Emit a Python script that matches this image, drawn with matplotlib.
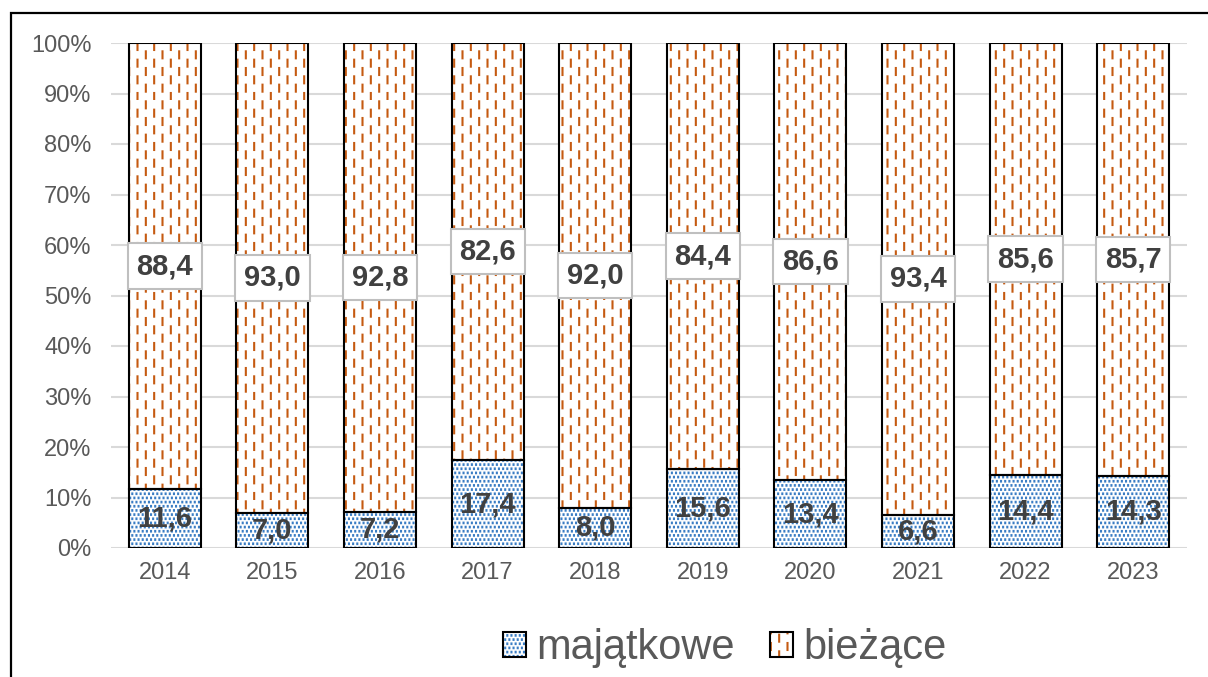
import warnings
import numpy as np
import matplotlib
matplotlib.use("Agg")
import matplotlib.pyplot as plt
from matplotlib import hatch as mhatch
from matplotlib.path import Path
from matplotlib.patches import Rectangle

warnings.filterwarnings("ignore")

# ---- data ----
years = ["2014", "2015", "2016", "2017", "2018", "2019", "2020", "2021", "2022", "2023"]
majatkowe = [11.6, 7.0, 7.2, 17.4, 8.0, 15.6, 13.4, 6.6, 14.4, 14.3]
biezace = [88.4, 93.0, 92.8, 82.6, 92.0, 84.4, 86.6, 93.4, 85.6, 85.7]
series_names = ["majątkowe", "bieżące"]
yticks = [0, 10, 20, 30, 40, 50, 60, 70, 80, 90, 100]


# ---- custom hatch patterns ----
class StaggeredDashes(mhatch.HatchPatternBase):
    """'!' : staggered short vertical dashes."""
    ncols, nrows, dash = 12, 6, 0.07

    def __init__(self, hatch, density):
        self.on = hatch.count('!') > 0
        self.num_vertices = self.ncols * self.nrows * 2 if self.on else 0

    def set_vertices_and_codes(self, vertices, codes):
        i = 0
        for c in range(self.ncols):
            x = (c + 0.5) / self.ncols
            off = 0.0 if c % 2 == 0 else 0.5 / self.nrows
            for r in range(self.nrows):
                y0 = (r / self.nrows + off) % 1.0
                y0 = min(y0, 1.0 - self.dash)
                vertices[i] = (x, y0)
                vertices[i + 1] = (x, y0 + self.dash)
                codes[i] = Path.MOVETO
                codes[i + 1] = Path.LINETO
                i += 2


class DenseDots(mhatch.HatchPatternBase):
    """':' : staggered grid of tiny dots."""
    n = 24
    d = 0.003

    def __init__(self, hatch, density):
        self.on = hatch.count(':') > 0
        self.num_vertices = self.n * self.n * 2 if self.on else 0

    def set_vertices_and_codes(self, vertices, codes):
        i = 0
        for r in range(self.n):
            y = (r + 0.5) / self.n
            off = 0.0 if r % 2 == 0 else 0.5 / self.n
            for c in range(self.n):
                x = ((c + 0.25) / self.n + off) % 1.0
                vertices[i] = (x, y - self.d)
                vertices[i + 1] = (x, y + self.d)
                codes[i] = Path.MOVETO
                codes[i + 1] = Path.LINETO
                i += 2


mhatch._hatch_types.append(StaggeredDashes)
mhatch._hatch_types.append(DenseDots)

plt.rcParams['font.family'] = ['Liberation Sans', 'DejaVu Sans']
plt.rcParams['hatch.linewidth'] = 1.5

W, H = 1208, 677
fig = plt.figure(figsize=(W / 100, H / 100), dpi=100)
ax = fig.add_axes([111 / W, 1 - 548 / H, (1187 - 111) / W, (548 - 43) / H])

x = np.arange(len(years))
bw = 0.67
blue = '#3A7DC4'
orange = '#C55A11'

b1 = ax.bar(x, majatkowe, bw, color='white', edgecolor=blue, hatch=':', linewidth=0, zorder=2)
b2 = ax.bar(x, biezace, bw, bottom=majatkowe, color='white', edgecolor=orange, hatch='!',
            linewidth=0, zorder=2)
o1 = ax.bar(x, majatkowe, bw, fill=False, edgecolor='black', linewidth=1.5, zorder=3)
o2 = ax.bar(x, biezace, bw, bottom=majatkowe, fill=False, edgecolor='black', linewidth=1.5, zorder=3)

lab_col = '#404040'
for xi, m, b in zip(x, majatkowe, biezace):
    ax.text(xi, m / 2, f"{m:.1f}".replace('.', ','), ha='center', va='center',
            fontsize=21, fontweight='bold', color=lab_col, zorder=5)
    ax.text(xi, m + b / 2, f"{b:.1f}".replace('.', ','), ha='center', va='center',
            fontsize=21, fontweight='bold', color=lab_col, zorder=5,
            bbox=dict(boxstyle='square,pad=0.3', facecolor='white', edgecolor='#bfbfbf', linewidth=1.5))

ax.set_xlim(-0.5, len(years) - 0.5)
ax.set_ylim(0, 100)
ax.set_yticks(yticks)
ax.set_yticklabels([f"{v}%" for v in yticks])
ax.set_xticks(x)
ax.set_xticklabels(years)
ax.tick_params(axis='both', length=0, labelsize=17, labelcolor='#595959')
ax.tick_params(axis='y', pad=14)
ax.tick_params(axis='x', pad=10)
ax.grid(axis='y', color='#d9d9d9', linewidth=1.5, zorder=0)
ax.set_axisbelow(True)
for s in ax.spines.values():
    s.set_visible(False)

leg = fig.legend([(b1[0], o1[0]), (b2[0], o2[0])], series_names, loc='center',
                 bbox_to_anchor=(725 / W, 1 - 648 / H), ncol=2, frameon=False,
                 fontsize=30, handlelength=0.55, handleheight=0.55, handletextpad=0.25,
                 columnspacing=0.85, labelcolor='#595959')

fig.patches.append(Rectangle((11 / W, -0.1), 2.0, (H - 13) / H + 0.1, transform=fig.transFigure,
                             fill=False, edgecolor='black', linewidth=1.6, zorder=10))

fig.savefig('out.png', dpi=100)
